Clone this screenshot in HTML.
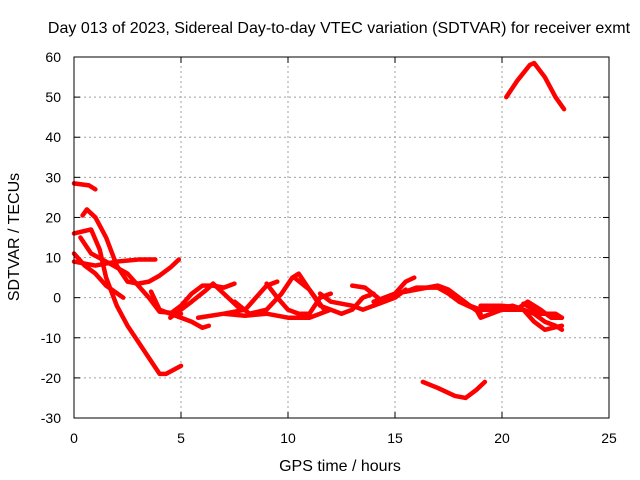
<!DOCTYPE html>
<html><head><meta charset="utf-8"><style>
body{margin:0;background:#fff}
svg{display:block;font-family:"Liberation Sans",sans-serif;font-size:14px}
.tt{font-size:16px}
</style></head><body>
<svg id="chart" width="640" height="480">
<text class="tt" x="339" y="33" text-anchor="middle">Day 013 of 2023, Sidereal Day-to-day VTEC variation (SDTVAR) for receiver exmt</text>
<text class="tt" x="340" y="471" text-anchor="middle">GPS time / hours</text>
<text class="tt" transform="translate(19,237) rotate(-90)" text-anchor="middle">SDTVAR / TECUs</text>
<g id="grid"></g><g id="series"></g>
<rect x="74" y="57" width="535" height="361" fill="none" stroke="#000"/>
</svg>
<script>
const xTicks=[0,5,10,15,20,25];
const yTicks=[-30,-20,-10,0,10,20,30,40,50,60];
const tracks=[
[[0,28.5],[0.7,28],[1.0,27]],
[[0.4,20.5],[0.6,22],[1,20],[1.5,15],[2,8],[2.5,4],[3,3.5],[3.5,4],[4,5.5],[4.5,7.5],[4.9,9.5]],
[[0,16],[0.8,17],[1.2,12],[1.5,5],[2,-2],[2.5,-7],[3,-11],[3.5,-15],[4,-19],[4.3,-19],[5,-17]],
[[0,11],[0.5,8],[1,6],[1.5,3],[2.3,0]],
[[0,9],[1,8],[1.5,8.5],[2,9],[3,9.5],[3.8,9.5]],
[[0.3,15],[0.8,11],[1.5,9],[2.5,6],[3.5,0],[4,-3.5],[5,-4]],
[[3.6,1.5],[4,-3],[4.5,-4],[5,-5],[5.5,-6],[6,-7.5],[6.3,-7]],
[[4.5,-4],[5,-2],[5.5,1],[6,3],[6.5,3],[7,2.5],[7.5,3.5]],
[[4.5,-5],[5.5,-1],[6.2,2],[6.5,3.5],[7.2,0],[7.8,-3]],
[[5.8,-5],[7,-4],[8,-4.5],[9,-4],[10,-5],[11,-5],[12,-3]],
[[7,-4],[8,-3],[8.5,0],[9,3],[9.5,4]],
[[7.5,-1],[8.2,-4],[9,-3],[9.7,1],[10.2,5],[10.5,6],[11,2],[11.7,-3]],
[[9,3.5],[9.5,0],[10,-3],[10.5,-4],[11,-4],[11.5,0],[12,1]],
[[10.3,5],[11,2],[11.5,-2],[12.5,-4],[13,-3],[13.5,0],[14,1]],
[[11.5,1],[12,-1],[13,-2],[13.5,-3],[14,-2],[15,0],[15.5,2]],
[[13,3],[13.6,2.5],[14.2,0]],
[[14,-2],[15,1],[15.5,4],[15.9,5]],
[[14,-1],[15,1],[16,2],[17,3],[17.5,2],[18,0],[18.5,-2],[19,-4]],
[[15.5,1.5],[16,2.5],[17,2.5],[17.5,1],[18,-1],[18.8,-3],[19,-5],[19.5,-4],[20,-3]],
[[16.3,-21],[17,-22.5],[17.8,-24.5],[18.3,-25],[18.8,-23],[19.2,-21]],
[[18,-1],[19,-3],[20,-3],[21,-3],[21.5,-4],[22,-6],[22.5,-7],[22.8,-8]],
[[19,-2],[20,-2],[20.8,-2.5],[21.2,-1],[21.8,-3],[22.3,-5],[22.8,-5]],
[[20.2,50],[20.7,54],[21.3,58],[21.5,58.5],[22,55],[22.5,50],[22.9,47]],
[[19.5,-3],[20.5,-2],[21,-3],[21.5,-6],[22,-8],[22.8,-7]],
[[21,-1.5],[21.8,-4],[22.5,-4],[22.8,-5]]
];
const X0=74,X1=609,Y0=418,Y1=57;
const sx=v=>X0+(v-0)/(25-0)*(X1-X0);
const sy=v=>Y0-(v+30)/(90)*(Y0-Y1);
const NS="http://www.w3.org/2000/svg";
const g=document.getElementById('grid'),s=document.getElementById('series');
function mk(t,a,p){const e=document.createElementNS(NS,t);for(const k in a)e.setAttribute(k,a[k]);p.appendChild(e);return e;}
xTicks.forEach(v=>{const x=sx(v);
 if(v>0&&v<25){const l=mk('line',{x1:x,x2:x,y1:Y0,y2:Y1,stroke:'#a0a0a0','stroke-dasharray':'2,3'},g);
 
 }
 const t=mk('text',{x:x,y:443,'text-anchor':'middle'},g);t.textContent=v;
 
 
 mk('line',{x1:x,x2:x,y1:Y0,y2:Y0-6,stroke:'#000'},g);mk('line',{x1:x,x2:x,y1:Y1,y2:Y1+6,stroke:'#000'},g);});
yTicks.forEach(v=>{const y=sy(v);
 if(v>-30&&v<60){const l=mk('line',{x1:X0,x2:X1,y1:y,y2:y,stroke:'#a0a0a0','stroke-dasharray':'2,3'},g);
 
 }
 const t=mk('text',{x:61,y:y+5,'text-anchor':'end'},g);t.textContent=v;
 
 
 mk('line',{x1:X0,x2:X0+6,y1:y,y2:y,stroke:'#000'},g);mk('line',{x1:X1,x2:X1-6,y1:y,y2:y,stroke:'#000'},g);});
tracks.forEach((tr,i)=>{
 const p=mk('polyline',{points:tr.map(d=>sx(d[0])+','+sy(d[1])).join(' '),fill:'none',stroke:'#ff0000','stroke-width':4.5,'stroke-linejoin':'round','stroke-linecap':'round'},s);
 
 
});
</script>
</body></html>
